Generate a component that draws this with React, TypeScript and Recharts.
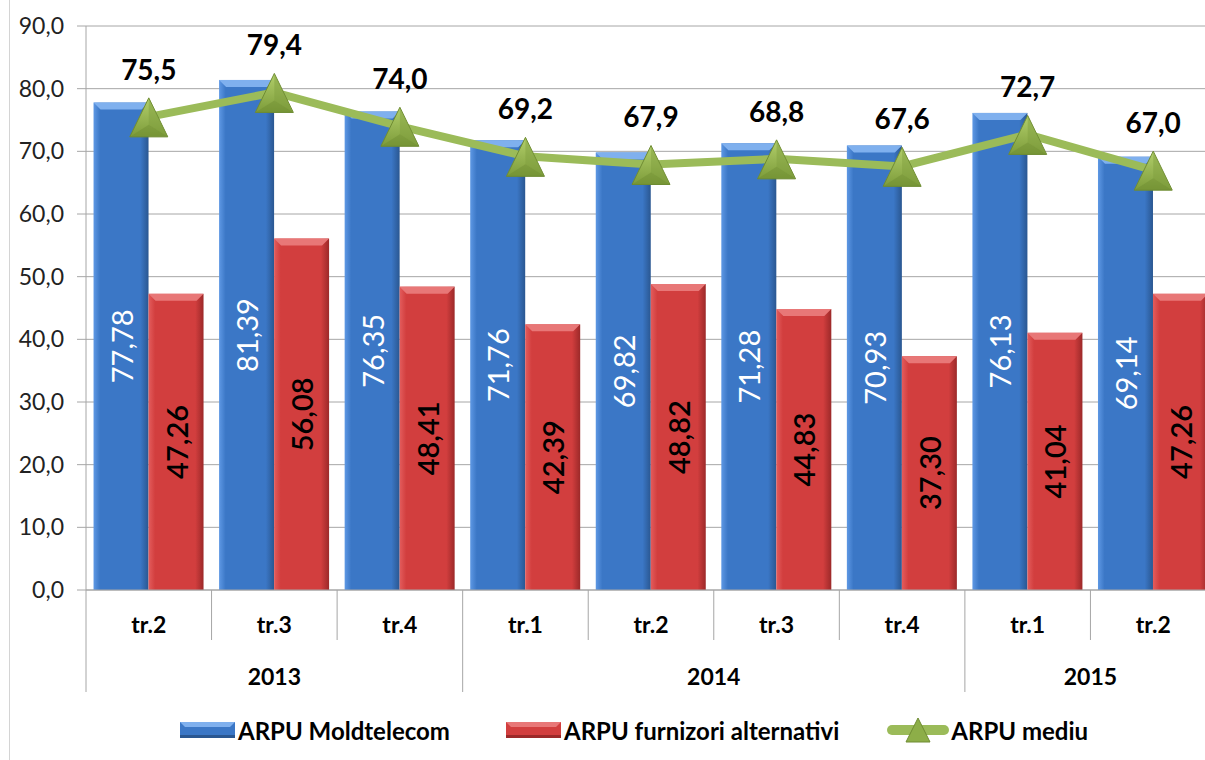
import React from "react";
import { ComposedChart, Bar, Line, XAxis, YAxis, CartesianGrid, LabelList, Legend } from "recharts";

const quarters = ["tr.2", "tr.3", "tr.4", "tr.1", "tr.2", "tr.3", "tr.4", "tr.1", "tr.2"];
const years = ["2013", "2013", "2013", "2014", "2014", "2014", "2014", "2015", "2015"];
const moldtelecom = [77.78, 81.39, 76.35, 71.76, 69.82, 71.28, 70.93, 76.13, 69.14];
const alternativi = [47.26, 56.08, 48.41, 42.39, 48.82, 44.83, 37.3, 41.04, 47.26];
const mediu = [75.5, 79.4, 74.0, 69.2, 67.9, 68.8, 67.6, 72.7, 67.0];
const yTicks = [0, 10, 20, 30, 40, 50, 60, 70, 80, 90];
const seriesNames = ["ARPU Moldtelecom", "ARPU furnizori alternativi", "ARPU mediu"];

const data = quarters.map((q, i) => ({
  quarter: q,
  year: years[i],
  mt: moldtelecom[i],
  alt: alternativi[i],
  avg: mediu[i],
}));

const FONT = "Lato, 'Open Sans', sans-serif";
const GRID = "#a6a6a6";
const fmt1 = (v: number) => v.toFixed(1).replace(".", ",");
const fmt2 = (v: number) => v.toFixed(2).replace(".", ",");

const palettes: Record<string, { light: string; mid: string; dark: string; top: string }> = {
  blue: { light: "#5E98E4", mid: "#3B77C6", dark: "#2A5791", top: "#7FB0EE" },
  red: { light: "#E35C5C", mid: "#D23E3E", dark: "#9C2929", top: "#E87777" },
};

const makeBarShape = (kind: string) => (props: any) => {
  const { x, y, width, height, index } = props;
  if (!width || !height) return <g />;
  const c = palettes[kind];
  const id = `grad-${kind}-${index}`;
  const b = Math.min(7, height / 2);
  return (
    <g>
      <defs>
        <linearGradient id={id} x1="0" y1="0" x2="1" y2="0">
          <stop offset="0" stopColor={c.light} />
          <stop offset="0.12" stopColor={c.mid} />
          <stop offset="0.85" stopColor={c.mid} />
          <stop offset="1" stopColor={c.dark} />
        </linearGradient>
      </defs>
      <rect x={x} y={y} width={width} height={height} fill={`url(#${id})`} />
      <polygon
        points={`${x},${y} ${x + width},${y} ${x + width - b},${y + b} ${x + b},${y + b}`}
        fill={c.top}
      />
    </g>
  );
};

const BarValueLabel = (color: string, weight: number) => (props: any) => {
  const { x, y, width, height, value } = props;
  const cx = x + width / 2;
  const cy = y + height / 2;
  return (
    <text
      x={cx}
      y={cy}
      transform={`rotate(-90 ${cx} ${cy})`}
      textAnchor="middle"
      dominantBaseline="central"
      fill={color}
      fontFamily={FONT}
      fontWeight={weight}
      fontSize={29}
    >
      {fmt2(Number(value))}
    </text>
  );
};

const AvgLabel = (props: any) => {
  const { x, y, value } = props;
  return (
    <text x={x} y={y - 37} textAnchor="middle" fill="#000" fontFamily={FONT} fontWeight={700} fontSize={28}>
      {fmt1(Number(value))}
    </text>
  );
};

const TriangleDot = (props: any) => {
  const { cx, cy, index } = props;
  if (cx == null || cy == null) return <g key={`d-${index}`} />;
  const id = `tri-${index}`;
  return (
    <g key={`d-${index}`}>
      <defs>
        <linearGradient id={id} x1="0" y1="0" x2="0" y2="1">
          <stop offset="0" stopColor="#B2CF6B" />
          <stop offset="1" stopColor="#7D9C3A" />
        </linearGradient>
      </defs>
      <polygon
        points={`${cx},${cy - 19} ${cx - 19},${cy + 20} ${cx + 19},${cy + 20}`}
        fill={`url(#${id})`}
        stroke="#6F8C33"
        strokeWidth={1}
      />
      <polygon points={`${cx},${cy - 19} ${cx},${cy + 8} ${cx + 19},${cy + 20}`} fill="#7F9E3E" opacity={0.45} />
      <polygon points={`${cx},${cy + 8} ${cx - 19},${cy + 20} ${cx + 19},${cy + 20}`} fill="#6C8A30" opacity={0.4} />
    </g>
  );
};

const CategoryTick = (props: any) => {
  const { x, y, payload, index } = props;
  const half = payload && payload.offset ? payload.offset : 62.8;
  const left = x - half;
  const isGroupStart = index === 0 || years[index] !== years[index - 1];
  const isLast = index === quarters.length - 1;
  let groupLen = 0;
  if (isGroupStart) {
    let j = index;
    while (j < years.length && years[j] === years[index]) {
      groupLen++;
      j++;
    }
  }
  return (
    <g>
      <line x1={left} x2={left} y1={y} y2={y + (isGroupStart ? 102 : 50)} stroke={GRID} strokeWidth={1} />
      {isLast && <line x1={x + half} x2={x + half} y1={y} y2={y + 102} stroke={GRID} strokeWidth={1} />}
      <text
        x={x}
        y={y + 34}
        textAnchor="middle"
        dominantBaseline="central"
        fill="#000"
        fontFamily={FONT}
        fontWeight={700}
        fontSize={23}
      >
        {payload.value}
      </text>
      {isGroupStart && (
        <text
          x={left + groupLen * half}
          y={y + 86}
          textAnchor="middle"
          dominantBaseline="central"
          fill="#000"
          fontFamily={FONT}
          fontWeight={700}
          fontSize={23}
        >
          {years[index]}
        </text>
      )}
    </g>
  );
};

const legendItems = [
  { name: seriesNames[0], kind: "blue" },
  { name: seriesNames[1], kind: "red" },
  { name: seriesNames[2], kind: "line" },
];

const renderLegend = () => (
  <div
    style={{
      display: "flex",
      alignItems: "center",
      height: 60,
      paddingLeft: 180,
      fontFamily: FONT,
      fontWeight: 700,
      fontSize: 24,
      color: "#000",
      boxSizing: "border-box",
    }}
  >
    {legendItems.map((it, i) => (
      <div key={i} style={{ display: "flex", alignItems: "center", marginRight: i === 0 ? 56 : 48 }}>
        {it.kind === "line" ? (
          <svg width={62} height={30} style={{ marginRight: 2 }}>
            <line x1={5} x2={57} y1={15} y2={15} stroke="#9BBB59" strokeWidth={10} strokeLinecap="round" />
            <polygon points="31,3 19,27 43,27" fill="#8DAE48" stroke="#6F8C33" strokeWidth={1} />
          </svg>
        ) : (
          <svg width={55} height={16} style={{ marginRight: 3 }}>
            <rect x={0} y={0} width={55} height={16} fill={palettes[it.kind].mid} />
            <polygon points="0,0 55,0 50,5 5,5" fill={palettes[it.kind].top} />
            <rect x={0} y={13} width={55} height={3} fill={palettes[it.kind].dark} />
          </svg>
        )}
        <span>{it.name}</span>
      </div>
    ))}
  </div>
);

export default function App() {
  return (
    <div
      style={{
        position: "absolute",
        left: 0,
        top: 0,
        width: 1205,
        height: 760,
        overflow: "hidden",
        background: "#fff",
      }}
    >
      <div style={{ position: "absolute", left: 9, top: 0, width: 1, height: 760, background: "#d4d4d4" }} />
      <ComposedChart
        width={1220}
        height={760}
        data={data}
        margin={{ top: 26, right: 4, left: 0, bottom: 0 }}
        barCategoryGap="6%"
        barGap={0}
        style={{ fontFamily: FONT }}
      >
        <CartesianGrid vertical={false} stroke={GRID} strokeWidth={1} />
        <XAxis
          dataKey="quarter"
          height={110}
          tickLine={false}
          tickSize={0}
          tickMargin={0}
          axisLine={{ stroke: GRID, strokeWidth: 1 }}
          tick={<CategoryTick />}
          interval={0}
        />
        <YAxis
          width={86}
          domain={[0, 90]}
          ticks={yTicks}
          tickFormatter={fmt1}
          axisLine={{ stroke: GRID, strokeWidth: 1 }}
          tickLine={{ stroke: GRID, strokeWidth: 1 }}
          tickSize={9}
          tickMargin={13}
          tick={{ fontSize: 23, fill: "#222", fontFamily: FONT }}
          interval={0}
        />
        <Legend verticalAlign="bottom" height={60} content={renderLegend} />
        <Bar dataKey="mt" name={seriesNames[0]} isAnimationActive={false} shape={makeBarShape("blue")}>
          <LabelList dataKey="mt" content={BarValueLabel("#fff", 400)} />
        </Bar>
        <Bar dataKey="alt" name={seriesNames[1]} isAnimationActive={false} shape={makeBarShape("red")}>
          <LabelList dataKey="alt" content={BarValueLabel("#000", 600)} />
        </Bar>
        <Line
          dataKey="avg"
          name={seriesNames[2]}
          type="linear"
          stroke="#9BBB59"
          strokeWidth={8}
          isAnimationActive={false}
          dot={(p: any) => <TriangleDot key={`dot-${p.index}`} {...p} />}
          activeDot={false}
        >
          <LabelList dataKey="avg" content={AvgLabel} />
        </Line>
      </ComposedChart>
    </div>
  );
}
